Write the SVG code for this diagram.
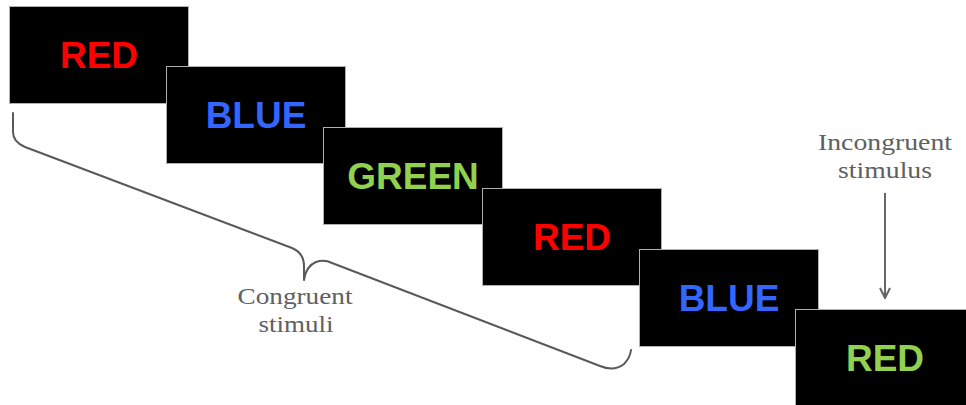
<svg xmlns="http://www.w3.org/2000/svg" width="966" height="405" viewBox="0 0 966 405">
  <style>
    .card { fill: #000; stroke: #b0b0b0; stroke-width: 1; }
    .word { font-family: "Liberation Sans", Arial, sans-serif; font-weight: bold; font-size: 37px; text-anchor: middle; }
    .red { fill: #ff0000; }
    .blue { fill: #3366ff; }
    .green { fill: #92d050; }
    .note { font-family: "Liberation Serif", "Times New Roman", serif; font-size: 24px; fill: #606060; text-anchor: middle; }
    .line { fill: none; stroke: #595959; stroke-width: 2; stroke-linecap: round; stroke-linejoin: round; }
  </style>
  <defs>
    <marker id="chevron" viewBox="0 0 12 12" refX="11" refY="6" markerWidth="12" markerHeight="12" markerUnits="userSpaceOnUse" orient="auto">
      <path d="M1,1 L11,6 L1,11" fill="none" stroke="#666" stroke-width="2"/>
    </marker>
  </defs>

  <rect width="966" height="405" fill="#fff"/>

  <g id="stim1">
    <rect class="card" x="9.5" y="6.5" width="179" height="97"/>
    <text class="word red" x="99" y="68">RED</text>
  </g>
  <g id="stim2">
    <rect class="card" x="166.5" y="66.5" width="179" height="97"/>
    <text class="word blue" x="256" y="128">BLUE</text>
  </g>
  <g id="stim3">
    <rect class="card" x="323.5" y="127.5" width="179" height="97"/>
    <text class="word green" x="413" y="189">GREEN</text>
  </g>
  <g id="stim4">
    <rect class="card" x="482.5" y="188.5" width="179" height="97"/>
    <text class="word red" x="572" y="250">RED</text>
  </g>
  <g id="stim5">
    <rect class="card" x="639.5" y="249.5" width="179" height="97"/>
    <text class="word blue" x="729" y="311">BLUE</text>
  </g>
  <g id="stim6">
    <rect class="card" x="795.5" y="309.5" width="179" height="97"/>
    <text class="word green" x="885" y="371">RED</text>
  </g>

  <g id="congruent-label">
    <text class="note" x="295" y="304" textLength="115" lengthAdjust="spacingAndGlyphs">Congruent</text>
    <text class="note" x="296" y="332" textLength="75" lengthAdjust="spacingAndGlyphs">stimuli</text>
  </g>
  <g id="incongruent-label">
    <text class="note" x="885" y="150" textLength="134" lengthAdjust="spacingAndGlyphs">Incongruent</text>
    <text class="note" x="885" y="178" textLength="94" lengthAdjust="spacingAndGlyphs">stimulus</text>
  </g>

  <g id="connectors">
    <path class="line" d="M13,113 L13,132 Q13,142 25,147 L292,248 Q304,253 304,266 L304,280 Q306,266 316,262 Q324,259 332,263 L600,366 Q614,372 624,364 Q630,358 631,350"/>
    <line x1="885" y1="193" x2="885" y2="298" stroke="#666" stroke-width="2" marker-end="url(#chevron)"/>
  </g>
</svg>
